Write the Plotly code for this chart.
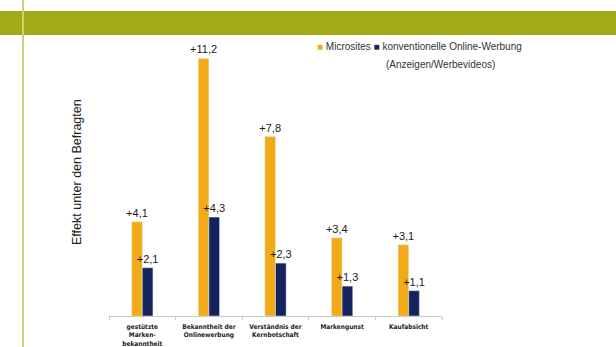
import plotly.graph_objects as go

categories = ["gestützte<br>Marken-<br>bekanntheit", "Bekanntheit der<br>Onlinewerbung",
              "Verständnis der<br>Kernbotschaft", "Markengunst", "Kaufabsicht"]
microsites = [4.1, 11.2, 7.8, 3.4, 3.1]
online = [2.1, 4.3, 2.3, 1.3, 1.1]
series_names = ["Microsites", "konventionelle Online-Werbung", "(Anzeigen/Werbevideos)"]
y_title = "Effekt unter den Befragten"

YELLOW, NAVY = "#F2AB17", "#14235E"
W, H = 616, 347
L, R, T, B = 109, 616 - 442, 40, 347 - 316
pw, ph = W - L - R, H - T - B

def px(x):
    return (x - L) / pw

def py(y):
    return (H - B - y) / ph

fig = go.Figure()
for vals, name, col in [(microsites, series_names[0], YELLOW), (online, series_names[1], NAVY)]:
    fig.add_bar(x=categories, y=vals, name=name, marker_color=col,
                texttemplate="+%{y:.1f}", textposition="outside", constraintext="none",
                cliponaxis=False,
                textfont=dict(size=11, color="#1a1a1a", family="Liberation Sans"))

legend_line1 = (f"<span style='color:{YELLOW}'>■</span> {series_names[0]} "
                f"<span style='color:{NAVY}'>■</span> {series_names[1]}")

fig.update_layout(
    width=W, height=H, margin=dict(l=L, r=R, t=T, b=B, autoexpand=False),
    paper_bgcolor="white", plot_bgcolor="white",
    barmode="group", bargap=0.68, bargroupgap=0,
    separators=",.",
    font=dict(family="Liberation Sans", color="#222"),
    showlegend=False,
    xaxis=dict(showline=True, linecolor="#C8C8C8", linewidth=1, ticks="outside",
               tickson="boundaries", ticklen=3, tickcolor="#C8C8C8",
               ticklabelstandoff=4, automargin=False,
               tickfont=dict(size=6.5, family="DejaVu Sans Condensed, Liberation Sans",
                             color="#222", weight="bold"),
               showgrid=False, fixedrange=True),
    yaxis=dict(range=[0, 12], showticklabels=False, showgrid=False, zeroline=False,
               showline=False, ticks="", automargin=False),
    shapes=[
        dict(type="rect", xref="paper", yref="paper", x0=px(-5), x1=px(W + 5),
             y0=py(35), y1=py(11), fillcolor="#A3AC17", line=dict(width=0), layer="below"),
        dict(type="line", xref="paper", yref="paper", x0=px(23), x1=px(23),
             y0=py(H + 5), y1=py(-5), line=dict(color="#CDD27A", width=2)),
    ],
    annotations=[
        dict(text=y_title, xref="paper", yref="paper", x=px(77), y=py(172),
             textangle=-90, showarrow=False, font=dict(size=12.5, color="#222"),
             xanchor="center", yanchor="middle"),
        dict(text=legend_line1, xref="paper", yref="paper", x=px(315), y=py(46),
             showarrow=False, xanchor="left", yanchor="middle",
             font=dict(size=10, color="#333")),
        dict(text=series_names[2], xref="paper", yref="paper", x=px(384), y=py(65),
             showarrow=False, xanchor="left", yanchor="middle",
             font=dict(size=10, color="#333")),
    ],
)

fig.write_html("out.html")
